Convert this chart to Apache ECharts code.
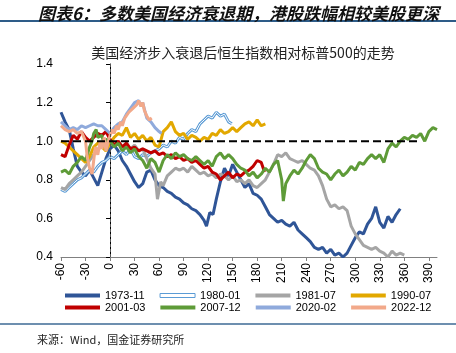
<!DOCTYPE html>
<html>
<head>
<meta charset="utf-8">
<script src="https://cdn.jsdelivr.net/npm/echarts@6/dist/echarts.min.js"></script>
<style>
html, body { margin: 0; padding: 0; background: #fff; }
#chart { width: 456px; height: 353px; }
</style>
</head>
<body>
<div id="chart"></div>
<script>
// 交易日 (相对衰退起点) , 恒指/标普500 相对值
var s1973 = [[-60,1.15],[-55,1.10],[-50,1.06],[-45,0.96],[-40,0.87],[-35,0.84],[-30,0.82],[-25,0.85],[-20,0.81],[-15,0.77],[-10,0.84],[-5,0.91],[0,0.96],[5,0.98],[10,0.95],[15,0.90],[20,0.87],[25,0.83],[30,0.79],[35,0.76],[40,0.78],[45,0.84],[50,0.85],[55,0.80],[60,0.77],[65,0.76],[70,0.74],[75,0.73],[80,0.71],[85,0.70],[90,0.68],[95,0.67],[100,0.65],[105,0.64],[110,0.62],[115,0.59],[118,0.56],[122,0.63],[126,0.62],[130,0.70],[135,0.79],[140,0.86],[145,0.82],[150,0.88],[155,0.84],[160,0.80],[165,0.76],[170,0.78],[175,0.73],[180,0.72],[185,0.70],[190,0.66],[195,0.62],[200,0.60],[205,0.58],[210,0.59],[215,0.57],[220,0.56],[225,0.58],[230,0.54],[235,0.52],[240,0.50],[245,0.48],[250,0.45],[255,0.44],[260,0.45],[265,0.42],[270,0.44],[275,0.41],[280,0.42],[285,0.40],[290,0.42],[295,0.46],[300,0.50],[305,0.53],[310,0.52],[315,0.57],[320,0.60],[325,0.66],[330,0.58],[335,0.55],[340,0.61],[345,0.58],[350,0.62],[355,0.65]];
var s1980 = [[-60,0.75],[-55,0.74],[-50,0.76],[-45,0.78],[-40,0.80],[-35,0.81],[-30,0.83],[-25,0.85],[-20,0.84],[-15,0.87],[-10,0.89],[-5,0.90],[0,0.92],[5,0.91],[10,0.93],[15,0.95],[20,0.93],[25,0.96],[30,0.92],[35,0.91],[40,0.93],[45,0.92],[50,0.94],[55,0.95],[60,0.96],[65,0.98],[70,0.97],[75,1.00],[80,0.99],[85,1.02],[90,1.01],[95,1.04],[100,1.06],[105,1.05],[110,1.09],[115,1.11],[120,1.13],[125,1.12],[130,1.15],[135,1.13],[140,1.14],[145,1.10],[149,1.09]];
var s1981 = [[-60,0.76],[-55,0.75],[-50,0.78],[-45,0.80],[-40,0.82],[-35,0.84],[-30,0.87],[-25,0.90],[-20,0.93],[-15,0.96],[-10,0.97],[-5,0.99],[0,1.00],[5,0.98],[10,1.00],[15,0.97],[20,0.99],[25,0.96],[30,0.98],[35,0.95],[40,0.96],[45,0.91],[50,0.86],[55,0.83],[58,0.70],[62,0.79],[65,0.77],[70,0.82],[75,0.84],[80,0.86],[85,0.85],[90,0.86],[95,0.84],[100,0.87],[105,0.85],[110,0.83],[115,0.84],[120,0.82],[125,0.83],[130,0.81],[135,0.83],[140,0.82],[145,0.80],[150,0.82],[155,0.79],[160,0.80],[165,0.78],[170,0.80],[175,0.77],[180,0.76],[185,0.78],[190,0.80],[195,0.84],[200,0.88],[205,0.93],[210,0.92],[215,0.94],[220,0.91],[225,0.90],[230,0.89],[235,0.90],[240,0.88],[245,0.86],[250,0.85],[255,0.82],[260,0.77],[265,0.70],[270,0.66],[275,0.67],[280,0.65],[285,0.66],[290,0.64],[295,0.56],[300,0.52],[305,0.49],[310,0.46],[315,0.45],[320,0.44],[325,0.45],[330,0.43],[335,0.42],[340,0.40],[345,0.43],[350,0.41],[355,0.42],[360,0.41]];
var s1990 = [[-60,1.00],[-55,0.99],[-50,0.97],[-45,0.95],[-40,0.93],[-35,0.91],[-30,0.89],[-25,0.92],[-20,0.97],[-15,0.99],[-10,0.97],[-5,0.95],[0,0.99],[5,1.02],[10,1.04],[15,1.03],[20,1.07],[25,1.02],[30,1.04],[35,1.01],[40,1.03],[45,1.00],[50,1.02],[55,0.98],[60,0.97],[65,1.05],[70,1.07],[75,1.10],[80,1.05],[85,1.03],[90,1.04],[95,1.01],[100,1.03],[105,1.02],[110,1.00],[115,1.02],[120,1.01],[125,1.04],[130,1.03],[135,1.06],[140,1.04],[145,1.05],[150,1.07],[155,1.05],[160,1.07],[165,1.09],[170,1.10],[175,1.08],[180,1.11],[185,1.08],[190,1.09]];
var s2001 = [[-60,0.93],[-55,0.92],[-50,0.98],[-45,1.03],[-40,1.01],[-35,1.05],[-30,1.02],[-25,1.00],[-20,1.02],[-15,1.04],[-10,1.03],[-5,1.05],[0,1.01],[5,0.98],[10,1.00],[15,0.97],[20,0.99],[25,0.96],[30,0.97],[35,0.95],[40,0.96],[45,0.95],[50,0.94],[55,0.95],[60,0.93],[65,0.94],[70,0.92],[75,0.93],[80,0.91],[85,0.92],[90,0.90],[95,0.91],[100,0.89],[105,0.90],[110,0.88],[115,0.86],[120,0.87],[125,0.84],[130,0.83],[135,0.80],[140,0.82],[145,0.84],[150,0.81],[155,0.83],[160,0.82],[165,0.84],[170,0.85],[175,0.87],[180,0.90],[185,0.89],[189,0.84]];
var s2007 = [[-60,0.84],[-55,0.85],[-50,0.83],[-45,0.87],[-40,0.89],[-35,0.92],[-30,0.90],[-25,0.97],[-22,1.00],[-20,1.04],[-17,1.06],[-15,1.02],[-10,1.03],[-7,0.98],[-5,1.01],[0,1.00],[5,0.97],[10,0.99],[15,0.95],[20,0.97],[25,0.94],[30,0.96],[35,0.92],[40,0.90],[45,0.86],[50,0.91],[55,0.89],[60,0.84],[65,0.90],[70,0.93],[75,0.91],[80,0.94],[85,0.92],[90,0.93],[95,0.91],[100,0.90],[105,0.92],[110,0.90],[115,0.88],[120,0.90],[125,0.87],[130,0.92],[135,0.94],[140,0.91],[145,0.93],[150,0.91],[155,0.88],[160,0.86],[165,0.85],[170,0.82],[175,0.84],[180,0.81],[185,0.83],[190,0.86],[195,0.84],[200,0.88],[205,0.90],[210,0.80],[212,0.69],[215,0.78],[220,0.82],[225,0.85],[230,0.83],[235,0.86],[240,0.90],[245,0.93],[250,0.91],[255,0.86],[260,0.84],[265,0.83],[270,0.80],[275,0.83],[280,0.85],[285,0.82],[290,0.84],[295,0.87],[300,0.85],[305,0.89],[310,0.88],[315,0.91],[320,0.93],[325,0.91],[330,0.93],[335,0.89],[340,0.96],[345,0.99],[350,0.97],[355,1.00],[360,1.02],[365,1.01],[370,1.03],[375,1.02],[380,1.04],[385,1.00],[390,1.05],[395,1.07],[400,1.06]];
var s2020 = [[-60,1.10],[-55,1.08],[-50,1.06],[-45,1.07],[-40,1.06],[-35,1.08],[-30,1.07],[-25,1.08],[-20,1.09],[-15,1.08],[-10,1.08],[-5,1.06],[0,1.04],[5,1.07],[10,1.09],[15,1.10],[20,1.14],[25,1.17],[30,1.20],[35,1.21],[38,1.18],[40,1.20],[43,1.15],[45,1.12],[50,1.10],[55,1.07],[60,1.05],[63,1.04]];
var s2022 = [[-60,1.08],[-55,1.06],[-50,1.05],[-45,1.06],[-40,1.04],[-35,1.05],[-30,1.00],[-28,0.92],[-25,0.86],[-22,0.83],[-20,0.90],[-18,0.97],[-15,0.93],[-12,1.00],[-10,0.96],[-7,1.02],[-5,0.95],[-2,1.00],[0,1.03],[3,1.06],[5,1.04],[8,1.08],[10,1.06],[13,1.10],[15,1.08],[18,1.12],[20,1.11],[23,1.15],[25,1.14],[28,1.17],[30,1.16],[33,1.19],[35,1.21],[38,1.18],[40,1.20],[42,1.16],[45,1.13],[48,1.11],[51,1.12]];

var names = ['1973-11', '1980-01', '1981-07', '1990-07', '2001-03', '2007-12', '2020-02', '2022-12'];
var colors = ['#2F5597', '#5B9BD5', '#A5A5A5', '#E2A800', '#C00000', '#5E9B38', '#8FAADC', '#F2A98A'];
var seriesData = [s1973, s1980, s1981, s1990, s2001, s2007, s2020, s2022];
var xTicks = [-60, -30, 0, 30, 60, 90, 120, 150, 180, 210, 240, 270, 300, 330, 360, 390];
var baseLine = [[-60, 1.0], [380, 1.0]];

function makeLine(name, color, data, width) {
    return {
        name: name,
        type: 'line',
        data: data,
        showSymbol: false,
        symbol: 'none',
        smooth: false,
        itemStyle: { color: color },
        lineStyle: { color: color, width: width },
        emphasis: { disabled: true }
    };
}

var series = [];
for (var i = 0; i < names.length; i++) {
    series.push(makeLine(names[i], colors[i], seriesData[i], 3));
    if (names[i] == '1980-01') {
        // 空心双线
        series.push(makeLine('1980-01-inner', '#FFFFFF', seriesData[i], 1));
    }
}
series.push({
    name: 'base',
    type: 'line',
    data: baseLine,
    symbol: 'none',
    z: 10,
    lineStyle: { color: '#000', width: 2, type: [8, 4] },
    markLine: {
        silent: true,
        symbol: 'none',
        label: { show: false },
        lineStyle: { color: '#595959', width: 1, type: [3, 2] },
        data: [{ xAxis: 0 }]
    }
});

var chart = echarts.init(document.getElementById('chart'));
var option = {
    animation: false,
    backgroundColor: '#fff',
    title: [
        {
            text: '图表6：多数美国经济衰退期，港股跌幅相较美股更深',
            left: 33,
            top: 0,
            textStyle: {
                fontFamily: 'Noto Sans CJK SC',
                fontSize: 17,
                fontWeight: 'bold',
                fontStyle: 'italic',
                color: '#111'
            }
        },
        {
            text: '美国经济步入衰退后恒生指数相对标普500的走势',
            left: 238,
            textAlign: 'center',
            top: 41,
            textStyle: {
                fontFamily: 'Noto Sans CJK SC',
                fontSize: 14,
                fontWeight: 'normal',
                color: '#222'
            }
        },
        {
            text: '来源：Wind，国金证券研究所',
            left: 32,
            top: 329,
            textStyle: {
                fontFamily: 'Noto Sans CJK SC',
                fontSize: 11,
                fontWeight: 'normal',
                color: '#222'
            }
        }
    ],
    graphic: [
        { type: 'line', shape: { x1: 0, y1: 21, x2: 456, y2: 21 }, style: { stroke: '#2E5C88', lineWidth: 2 } },
        { type: 'line', shape: { x1: 0, y1: 324, x2: 456, y2: 324 }, style: { stroke: '#3C6A94', lineWidth: 1.5 } }
    ],
    legend: [
        {
            data: [names[0], { name: names[1], itemStyle: { color: '#fff', borderColor: '#5B9BD5', borderWidth: 1 } }, names[2], names[3]],
            left: 60,
            top: 285,
            icon: 'rect',
            itemWidth: 35,
            itemHeight: 4,
            itemGap: 15,
            selectedMode: false,
            textStyle: { fontFamily: 'Liberation Sans', fontSize: 11, color: '#000' }
        },
        {
            data: names.slice(4),
            left: 60,
            top: 297,
            icon: 'rect',
            itemWidth: 35,
            itemHeight: 4,
            itemGap: 15,
            selectedMode: false,
            textStyle: { fontFamily: 'Liberation Sans', fontSize: 11, color: '#000' }
        }
    ],
    grid: {
        left: 61,
        right: 19,
        top: 64,
        bottom: 96
    },
    xAxis: {
        type: 'value',
        min: -60,
        max: 400,
        interval: 30,
        axisLine: { lineStyle: { color: '#808080', width: 1 } },
        axisTick: { show: true, length: 4, customValues: xTicks, lineStyle: { color: '#808080' } },
        axisLabel: {
            customValues: xTicks,
            rotate: 90,
            margin: 6,
            fontFamily: 'Liberation Sans',
            fontSize: 12,
            color: '#000'
        },
        splitLine: { show: false }
    },
    yAxis: {
        type: 'value',
        min: 0.4,
        max: 1.4,
        interval: 0.2,
        axisLine: { show: true, lineStyle: { color: '#000', width: 1 } },
        axisTick: { show: true, length: 4, lineStyle: { color: '#000' } },
        axisLabel: {
            margin: 8,
            fontFamily: 'Liberation Sans',
            fontSize: 12,
            color: '#000',
            formatter: function (v) { return v.toFixed(1); }
        },
        splitLine: { show: false }
    },
    series: series
};
chart.setOption(option);
</script>
</body>
</html>
